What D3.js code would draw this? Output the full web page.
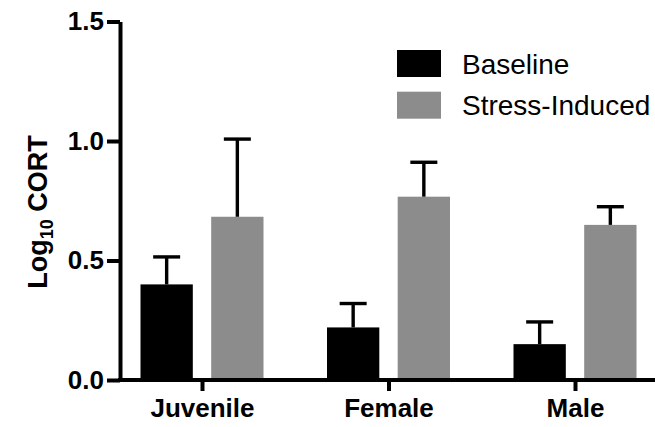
<!DOCTYPE html>
<html>
<head>
<meta charset="utf-8">
<script src="https://cdn.jsdelivr.net/npm/d3@7"></script>
<style>
  html, body { margin: 0; padding: 0; background: #fff; }
  svg { display: block; }
</style>
</head>
<body>
<script>
const categories = ["Juvenile", "Female", "Male"];
const seriesNames = ["Baseline", "Stress-Induced"];
const baselineValues = [0.40, 0.22, 0.15];
const baselineErrors = [0.115, 0.10, 0.093];
const stressValues = [0.683, 0.767, 0.649];
const stressErrors = [0.325, 0.144, 0.076];
const yTickValues = [0, 0.5, 1.0, 1.5];
const seriesColors = ["#000000", "#8c8c8c"];

const W = 655, H = 427;
const svg = d3.select("body").append("svg").attr("width", W).attr("height", H);

const y = d3.scaleLinear().domain([0, 1.5]).range([380, 21.5]);
const x = d3.scalePoint().domain(categories).range([202, 575]);
const xs = d3.scaleBand().domain(seriesNames).range([-61.5, 61.5]).paddingInner(0.26);
const color = d3.scaleOrdinal().domain(seriesNames).range(seriesColors);

const rows = [];
categories.forEach((c, i) => {
  rows.push({cat: c, s: seriesNames[0], v: baselineValues[i], e: baselineErrors[i]});
  rows.push({cat: c, s: seriesNames[1], v: stressValues[i], e: stressErrors[i]});
});

const font = "'Liberation Sans', Arial, Helvetica, sans-serif";

// bars
svg.append("g").selectAll("rect").data(rows).join("rect")
  .attr("x", d => x(d.cat) + xs(d.s))
  .attr("width", xs.bandwidth())
  .attr("y", d => y(d.v))
  .attr("height", d => y(0) - y(d.v))
  .attr("fill", d => color(d.s));

// error bars
const eg = svg.append("g").attr("stroke", "#000").attr("stroke-width", 3.4);
eg.selectAll("line.v").data(rows).join("line").attr("class", "v")
  .attr("x1", d => x(d.cat) + xs(d.s) + xs.bandwidth() / 2)
  .attr("x2", d => x(d.cat) + xs(d.s) + xs.bandwidth() / 2)
  .attr("y1", d => y(d.v))
  .attr("y2", d => y(d.v + d.e));
eg.selectAll("line.c").data(rows).join("line").attr("class", "c")
  .attr("x1", d => x(d.cat) + xs(d.s) + xs.bandwidth() / 2 - 13.5)
  .attr("x2", d => x(d.cat) + xs(d.s) + xs.bandwidth() / 2 + 13.5)
  .attr("y1", d => y(d.v + d.e))
  .attr("y2", d => y(d.v + d.e));

// y axis
const yAxis = svg.append("g").attr("transform", "translate(120,0)")
  .call(d3.axisLeft(y).tickValues(yTickValues).tickFormat(d3.format(".1f")).tickSize(13).tickSizeOuter(0).tickPadding(3));
yAxis.select(".domain").attr("stroke-width", 4).attr("stroke", "#000");
yAxis.selectAll(".tick line").attr("stroke-width", 4).attr("stroke", "#000");
yAxis.selectAll(".tick text").attr("font-family", font).attr("font-weight", "bold")
  .attr("font-size", 26).attr("fill", "#000");

// x axis
const xAxis = svg.append("g").attr("transform", `translate(0,${y(0)})`)
  .call(d3.axisBottom(x).tickSize(11).tickSizeOuter(0).tickPadding(8));
xAxis.select(".domain").remove();
xAxis.selectAll(".tick line").attr("stroke-width", 4).attr("stroke", "#000");
xAxis.selectAll(".tick text").attr("font-family", font).attr("font-weight", "bold")
  .attr("font-size", 26).attr("fill", "#000");
svg.append("line").attr("x1", 118).attr("x2", W).attr("y1", y(0)).attr("y2", y(0))
  .attr("stroke", "#000").attr("stroke-width", 4);

// y label
const yl = svg.append("text")
  .attr("transform", "translate(47,212) rotate(-90)")
  .attr("text-anchor", "middle")
  .attr("font-family", font).attr("font-weight", "bold").attr("font-size", 27).attr("fill", "#000");
yl.append("tspan").text("Log");
yl.append("tspan").attr("font-size", 18).attr("dy", 6).text("10");
yl.append("tspan").attr("dy", -6).text(" CORT");

// legend
const lg = svg.append("g");
seriesNames.forEach((s, i) => {
  lg.append("rect").attr("x", 397).attr("y", 50 + i * 41.7).attr("width", 44).attr("height", 27)
    .attr("fill", color(s));
  lg.append("text").attr("x", 462).attr("y", 73.5 + i * 41.7)
    .attr("font-family", font).attr("font-size", 28).attr("fill", "#000").text(s);
});
</script>
</body>
</html>
